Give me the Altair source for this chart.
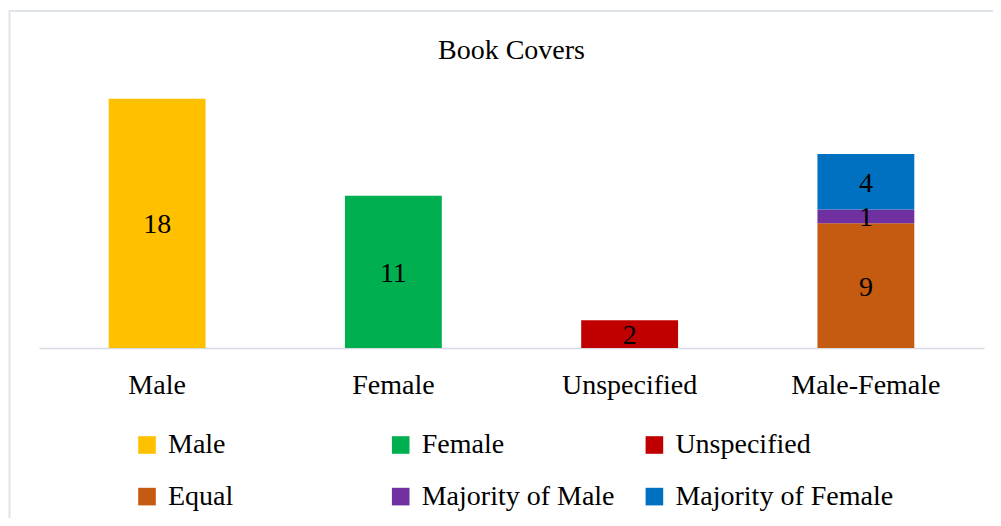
import altair as alt
import pandas as pd

categories = ["Male", "Female", "Unspecified", "Male-Female"]
bar_category = ["Male", "Female", "Unspecified", "Male-Female", "Male-Female", "Male-Female"]
series = ["Male", "Female", "Unspecified", "Equal", "Majority of Male", "Majority of Female"]
values = [18, 11, 2, 9, 1, 4]
stack_order = [0, 0, 0, 0, 1, 2]
colors = ["#FFC000", "#00B050", "#C00000", "#C55A11", "#7030A0", "#0070C0"]

df = pd.DataFrame({
    "category": bar_category,
    "series": series,
    "value": values,
    "ord": stack_order,
})

FONT = "Liberation Serif"
W, H = 945, 277

x_enc = alt.X("category:N", sort=categories, title=None,
              scale=alt.Scale(paddingInner=0.59, paddingOuter=0.295),
              axis=alt.Axis(labelAngle=0, ticks=False, tickSize=0, labelPadding=45,
                            labelBaseline="alphabetic", labelFont=FONT, labelFontSize=28,
                            labelColor="#000000", domainColor="#d6dbe3", domainWidth=1.5,
                            grid=False))
y_scale = alt.Scale(domain=[0, 20], nice=False)

bars = alt.Chart(df).mark_bar().encode(
    x=x_enc,
    y=alt.Y("value:Q", stack="zero", scale=y_scale, axis=None),
    color=alt.Color("series:N", sort=series,
                    scale=alt.Scale(domain=series, range=colors),
                    legend=alt.Legend(title=None, orient="none", direction="horizontal",
                                      legendX=94, legendY=360,
                                      columns=3, gridAlign="all", columnPadding=0.7,
                                      rowPadding=23.6, symbolType="square", symbolSize=310,
                                      symbolStrokeWidth=0, symbolOpacity=1,
                                      labelFont=FONT, labelFontSize=28, labelColor="#000000",
                                      labelOffset=7, labelLimit=400, padding=0)),
    order=alt.Order("ord:Q"),
)

labels = alt.Chart(df).transform_stack(
    stack="value", groupby=["category"], as_=["v0", "v1"], sort=[alt.SortField("ord")]
).transform_calculate(
    mid="(datum.v0 + datum.v1) / 2"
).mark_text(font=FONT, fontSize=28, color="#000000", baseline="middle", dy=2).encode(
    x=alt.X("category:N", sort=categories),
    y=alt.Y("mid:Q", scale=y_scale),
    text=alt.Text("value:Q"),
)

border = alt.Chart(pd.DataFrame({"a": [0]})).mark_rect(
    fill=None, stroke="#dfe3ea", strokeWidth=2
).encode(
    x=alt.value(-29.5), x2=alt.value(W + 200),
    y=alt.value(-60), y2=alt.value(H + 300),
)

chart = alt.layer(border, bars, labels).properties(
    width=W, height=H,
    title=alt.TitleParams("Book Covers", font=FONT, fontSize=28, fontWeight="normal",
                          color="#000000", anchor="middle", frame="group",
                          baseline="alphabetic", offset=11, dy=88),
    autosize=alt.AutoSizeParams(type="none"),
    padding={"left": 31, "top": 63, "right": 9, "bottom": 170},
).configure_view(stroke=None)

chart.save("out.html", embed_options={"renderer": "svg", "actions": False})
